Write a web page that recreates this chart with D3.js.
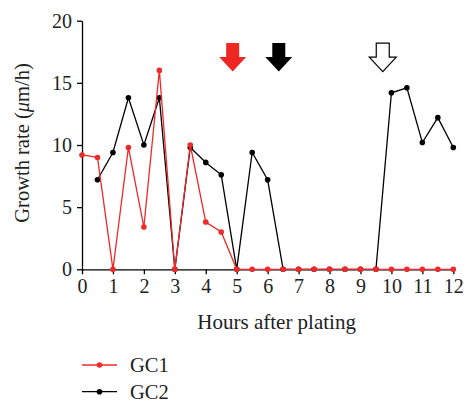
<!DOCTYPE html>
<html><head><meta charset="utf-8">
<script src="https://cdn.jsdelivr.net/npm/d3@7"></script>
<style>
body{margin:0;background:#fff;}
text{font-family:"Liberation Serif","DejaVu Serif",serif;fill:#222;}
</style></head>
<body><svg id="c" width="466" height="402"></svg>
<script>
const hours = [0,0.5,1,1.5,2,2.5,3,3.5,4,4.5,5,5.5,6,6.5,7,7.5,8,8.5,9,9.5,10,10.5,11,11.5,12];
const gc1 = [9.2,9.0,0,9.8,3.4,16,0,10,3.8,3.0,0,0,0,0,0,0,0,0,0,0,0,0,0,0,0];
const gc2 = [null,7.2,9.4,13.8,10,13.8,0,9.8,8.6,7.6,0,9.4,7.2,0,0,0,0,0,0,0,14.2,14.6,10.2,12.2,9.8];
const xTicks = [0,1,2,3,4,5,6,7,8,9,10,11,12];
const yTicks = [0,5,10,15,20];
const arrowHours = [4.87,6.36,9.72];
const arrowFills = ["#ee2624","#000000","#ffffff"];
const seriesNames = ["GC1","GC2"];
const seriesColors = ["#ee2a2a","#000000"];

const svg = d3.select("#c");
const x = d3.scaleLinear().domain([0,12]).range([82,453.3]);
const y = d3.scaleLinear().domain([0,20]).range([269.3,20.7]);

// axes
const xa = svg.append("g").attr("transform",`translate(0,${y(0)})`)
  .call(d3.axisBottom(x).tickValues(xTicks).tickSize(5).tickSizeOuter(0).tickPadding(5));
const ya = svg.append("g").attr("transform",`translate(${x(0)},0)`)
  .call(d3.axisLeft(y).tickValues(yTicks).tickSize(5).tickSizeOuter(0).tickPadding(5));
[xa,ya].forEach(a=>{
  a.selectAll("path,line").attr("stroke","#000").attr("stroke-width",1.3);
  a.selectAll("text").attr("font-size",20).attr("font-family","Liberation Serif").attr("fill","#222");
});

svg.append("text").attr("x",(x(0)+x(12))/2+9).attr("y",329).attr("text-anchor","middle")
  .attr("font-size",21).text("Hours after plating");
const yt = svg.append("text").attr("transform",`translate(29,${143}) rotate(-90)`)
  .attr("text-anchor","middle").attr("font-size",20.5);
yt.append("tspan").text("Growth rate (");
yt.append("tspan").attr("font-style","italic").text("μ");
yt.append("tspan").text("m/h)");

// series
const line = d3.line().defined(d=>d[1]!==null).x(d=>x(d[0])).y(d=>y(d[1]));
[[gc2,1],[gc1,0]].forEach(([vals,i])=>{
  const pts = hours.map((h,k)=>[h,vals[k]]);
  svg.append("path").datum(pts).attr("d",line).attr("fill","none")
    .attr("stroke",seriesColors[i]).attr("stroke-width",1.3);
  svg.append("g").selectAll("circle").data(pts.filter(d=>d[1]!==null)).join("circle")
    .attr("cx",d=>x(d[0])).attr("cy",d=>y(d[1])).attr("r",2.8).attr("fill",seriesColors[i]);
});

// arrows
const arrowTop = 18.2;
arrowHours.forEach((h,i)=>{
  const cx = x(h), t = y(arrowTop);
  const sw=6.5, hw=13.5, sh=14, hh=14.5;
  const p = [[cx-sw,t],[cx+sw,t],[cx+sw,t+sh],[cx+hw,t+sh],[cx,t+sh+hh],[cx-hw,t+sh],[cx-sw,t+sh]];
  svg.append("path").attr("d","M"+p.map(q=>q.join(",")).join("L")+"Z")
    .attr("fill",arrowFills[i]).attr("stroke-width",1.2)
    .attr("stroke",i===2?"#000":"none");
});

// legend
seriesNames.forEach((n,i)=>{
  const ly = 365 + i*26.7;
  svg.append("line").attr("x1",82).attr("x2",117).attr("y1",ly).attr("y2",ly)
    .attr("stroke",seriesColors[i]).attr("stroke-width",1.3);
  svg.append("circle").attr("cx",99.5).attr("cy",ly).attr("r",2.8).attr("fill",seriesColors[i]);
  svg.append("text").attr("x",130).attr("y",ly+7).attr("font-size",20.5).text(n);
});
</script></body></html>
